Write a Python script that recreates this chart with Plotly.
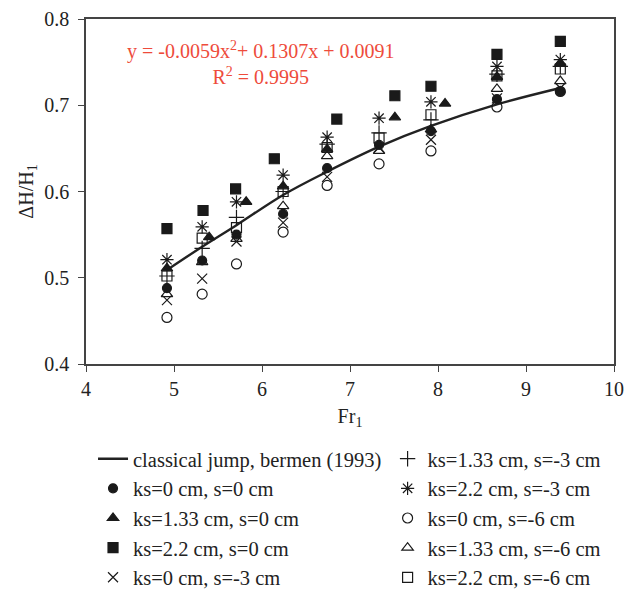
import plotly.graph_objects as go

# ── data ────────────────────────────────────────────────────
fr = [4.92, 5.32, 5.71, 6.24, 6.74, 7.33, 7.92, 8.67, 9.39]

# classical jump curve (bermen 1993), read at the column positions
curve_x = [4.92, 5.32, 5.71, 6.24, 6.74, 7.33, 7.92, 8.67, 9.39]
curve_y = [0.509, 0.536, 0.561, 0.596, 0.623, 0.652, 0.676, 0.701, 0.720]

# ks=0 cm, s=0 cm  (filled circle)
ks0_s0 = [0.488, 0.520, 0.550, 0.574, 0.627, 0.654, 0.670, 0.707, 0.716]
# ks=1.33 cm, s=0 cm  (filled triangle) - slightly shifted columns
ks133_s0_x = [4.92, 5.40, 5.82, 6.24, 6.74, 7.51, 8.08, 8.67, 9.39]
ks133_s0 = [0.511, 0.547, 0.588, 0.606, 0.649, 0.686, 0.702, 0.733, 0.749]
# ks=2.2 cm, s=0 cm  (filled square)
ks22_s0_x = [4.92, 5.33, 5.70, 6.14, 6.85, 7.51, 7.92, 8.67, 9.39]
ks22_s0 = [0.557, 0.578, 0.603, 0.638, 0.684, 0.711, 0.722, 0.759, 0.774]
# ks=0 cm, s=-3 cm  (x)
ks0_s3 = [0.474, 0.499, 0.542, 0.564, 0.617, 0.651, 0.660, 0.708, 0.720]
# ks=1.33 cm, s=-3 cm  (+)
ks133_s3 = [0.502, 0.534, 0.570, 0.600, 0.655, 0.668, 0.683, 0.736, 0.745]
# ks=2.2 cm, s=-3 cm  (asterisk)
ks22_s3 = [0.521, 0.559, 0.588, 0.619, 0.663, 0.685, 0.704, 0.745, 0.753]
# ks=0 cm, s=-6 cm  (open circle)
ks0_s6 = [0.454, 0.481, 0.516, 0.553, 0.607, 0.632, 0.647, 0.698, 0.716]
# ks=1.33 cm, s=-6 cm  (open triangle)
ks133_s6 = [0.481, 0.518, 0.545, 0.583, 0.641, 0.647, 0.672, 0.719, 0.728]
# ks=2.2 cm, s=-6 cm  (open square)
ks22_s6 = [0.502, 0.546, 0.558, 0.600, 0.651, 0.662, 0.689, 0.734, 0.742]

FONT = "Liberation Serif, Times New Roman, serif"
INK = "#1a1a1a"
TXT = "#222222"
RED = "#EE4B3B"


def pts(name, x, y, symbol, size, legend):
    return go.Scatter(
        x=x, y=y, mode="markers", name=name, legend=legend, legendgroup=name,
        marker=dict(symbol=symbol, size=size, color=INK,
                    line=dict(width=1.2, color=INK)),
    )


fig = go.Figure()

# left legend column
fig.add_trace(go.Scatter(
    x=curve_x, y=curve_y, mode="lines", name="classical jump, bermen (1993)",
    legend="legend", legendgroup="curve",
    line=dict(color="#222222", width=2.4, shape="spline"),
))
fig.add_trace(pts("ks=0 cm, s=0 cm", fr, ks0_s0, "circle", 9, "legend"))
fig.add_trace(pts("ks=1.33 cm, s=0 cm", ks133_s0_x, ks133_s0, "triangle-up", 10, "legend"))
fig.add_trace(pts("ks=2.2 cm, s=0 cm", ks22_s0_x, ks22_s0, "square", 10, "legend"))
fig.add_trace(pts("ks=0 cm, s=-3 cm", fr, ks0_s3, "x-thin-open", 10, "legend"))
# right legend column
fig.add_trace(pts("ks=1.33 cm, s=-3 cm", fr, ks133_s3, "cross-thin-open", 11, "legend2"))
fig.add_trace(pts("ks=2.2 cm, s=-3 cm", fr, ks22_s3, "asterisk-open", 11, "legend2"))
fig.add_trace(pts("ks=0 cm, s=-6 cm", fr, ks0_s6, "circle-open", 10, "legend2"))
fig.add_trace(pts("ks=1.33 cm, s=-6 cm", fr, ks133_s6, "triangle-up-open", 10, "legend2"))
fig.add_trace(pts("ks=2.2 cm, s=-6 cm", fr, ks22_s6, "square-open", 10, "legend2"))

fig.add_annotation(
    xref="paper", yref="paper", x=0.331, y=0.95,
    xanchor="center", yanchor="top", showarrow=False, align="center",
    text="y = -0.0059x<sup>2</sup>+ 0.1307x + 0.0091<br>R<sup>2</sup> = 0.9995",
    font=dict(family=FONT, size=20, color=RED),
)

axis_common = dict(
    showline=True, linecolor="#444444", linewidth=1.5, mirror=True,
    ticks="outside", ticklen=6, tickcolor="#444444", tickwidth=1.2,
    showgrid=False, zeroline=False, ticklabeloverflow="allow",
    tickfont=dict(family=FONT, size=20, color=TXT),
)

fig.update_xaxes(
    range=[4, 10], dtick=1,
    title=dict(text="Fr<sub>1</sub>", font=dict(family=FONT, size=20, color=TXT),
               standoff=10),
    **axis_common,
)
fig.update_yaxes(
    range=[0.4, 0.8], dtick=0.1, tickformat=".1f", ticklabelstandoff=5,
    title=dict(text="ΔH/H<sub>1</sub>", font=dict(family=FONT, size=20, color=TXT),
               standoff=5),
    **axis_common,
)

legend_common = dict(
    orientation="v", xanchor="left", y=-0.217, yanchor="top",
    font=dict(family=FONT, size=20.5, color=TXT),
    itemwidth=30, tracegroupgap=0, bgcolor="rgba(0,0,0,0)",
)

# the page body adds an 8px offset, so the figure is 8px smaller
fig.update_layout(
    width=624, height=583,
    margin=dict(l=78, r=18, t=11, b=227, autoexpand=False),
    plot_bgcolor="white", paper_bgcolor="white",
    font=dict(family=FONT, size=20, color=TXT),
    legend=dict(x=0.0133, **legend_common),
    legend2=dict(x=0.5712, **legend_common),
    showlegend=True,
)

fig.write_html("out.html")
